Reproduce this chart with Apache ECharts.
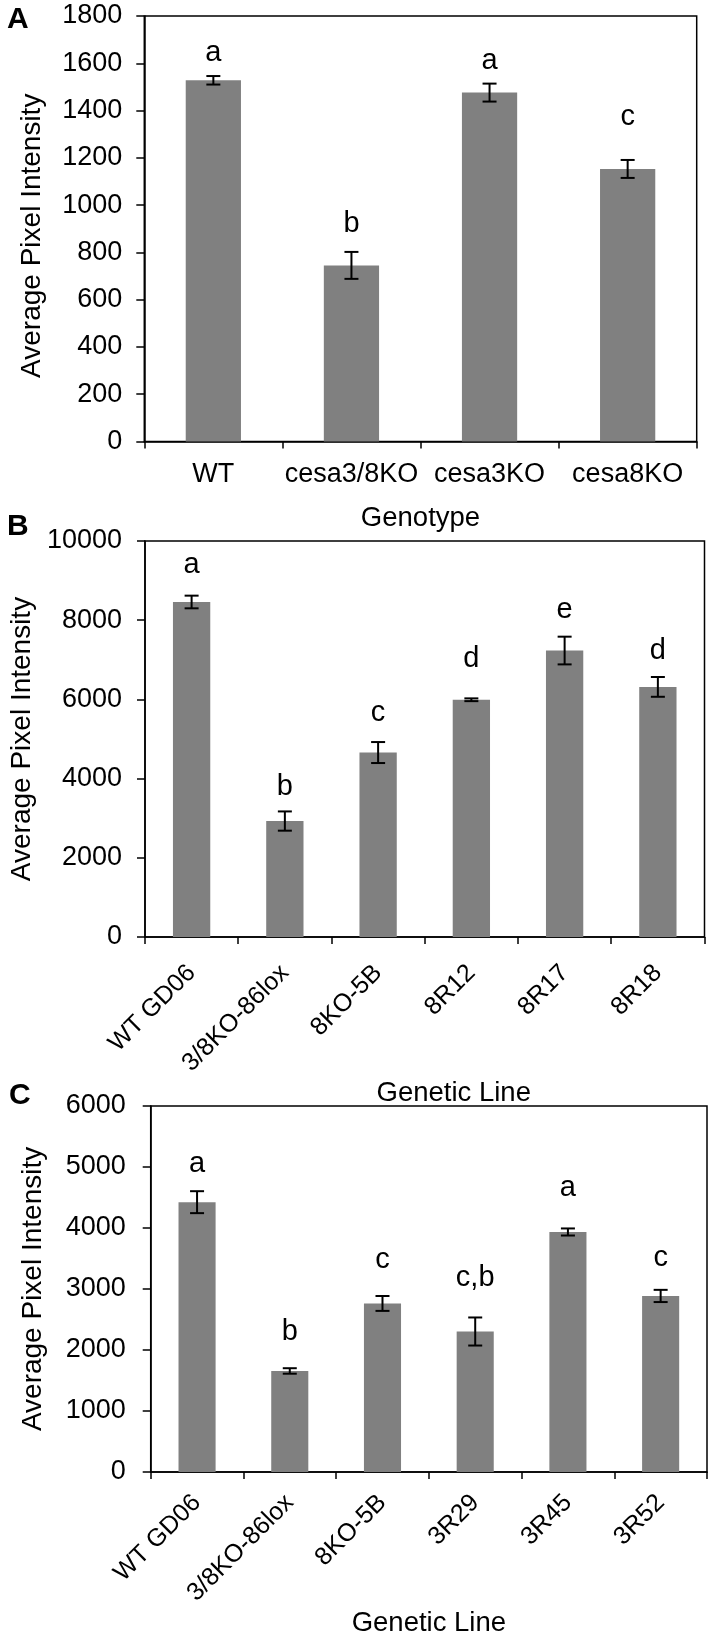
<!DOCTYPE html>
<html>
<head>
<meta charset="utf-8">
<script src="https://cdn.jsdelivr.net/npm/echarts@6/dist/echarts.min.js"></script>
<style>
html,body{margin:0;padding:0;background:#fff;}
#chart{width:713px;height:1638px;}
</style>
</head>
<body>
<div id="chart"></div>
<script>
// ---- Panel A ----
const catsA = ['WT', 'cesa3/8KO', 'cesa3KO', 'cesa8KO'];
const valsA = [1528, 745, 1476, 1153];
const errA = [18, 57, 38, 38];
const lettersA = ['a', 'b', 'a', 'c'];
const letterLevelA = [1642, 920, 1609, 1372];
const yMaxA = 1800, yStepA = 200;

// ---- Panel B ----
const catsB = ['WT GD06', '3/8KO-86lox', '8KO-5B', '8R12', '8R17', '8R18'];
const valsB = [8460, 2928, 4658, 5991, 7234, 6316];
const errB = [160, 243, 265, 35, 350, 250];
const lettersB = ['a', 'b', 'c', 'd', 'e', 'd'];
const letterLevelB = [9388, 3784, 5649, 7027, 8262, 7234];
const yMaxB = 10000, yStepB = 2000;

// ---- Panel C ----
const catsC = ['WT GD06', '3/8KO-86lox', '8KO-5B', '3R29', '3R45', '3R52'];
const valsC = [4423, 1655, 2762, 2302, 3934, 2885];
const errC = [180, 45, 122, 230, 58, 100];
const lettersC = ['a', 'b', 'c', 'c,b', 'a', 'c'];
const letterLevelC = [5041, 2302, 3467, 3176, 4662, 3514];
const yMaxC = 6000, yStepC = 1000;

const FONT = '"Liberation Sans", Arial, Helvetica, sans-serif';
const BAR = '#808080';

function errRender(params, api) {
  const v = api.value(1), e = api.value(2);
  const top = api.coord([api.value(0), v + e]);
  const bot = api.coord([api.value(0), v - e]);
  const hw = 7;
  const st = {stroke: '#000', lineWidth: 2};
  return {type: 'group', children: [
    {type: 'line', shape: {x1: top[0], y1: top[1], x2: bot[0], y2: bot[1]}, style: st},
    {type: 'line', shape: {x1: top[0] - hw, y1: top[1], x2: top[0] + hw, y2: top[1]}, style: st},
    {type: 'line', shape: {x1: bot[0] - hw, y1: bot[1], x2: bot[0] + hw, y2: bot[1]}, style: st}
  ]};
}
function letterRender(letters) {
  return function (params, api) {
    const p = api.coord([api.value(0), api.value(1)]);
    return {type: 'text', style: {x: p[0], y: p[1], text: letters[params.dataIndex],
      fill: '#000', font: '29px ' + FONT, textAlign: 'center', textVerticalAlign: 'middle'}};
  };
}

const axisLine = {show: true, lineStyle: {color: '#000', width: 1.5}};
function xAxis(idx, cats, opts) {
  return Object.assign({
    type: 'category', gridIndex: idx, data: cats, boundaryGap: true,
    axisLine: axisLine,
    axisTick: {show: true, length: 7, lineStyle: {color: '#000', width: 1.5}},
    splitLine: {show: false},
    nameLocation: 'middle',
    nameTextStyle: {color: '#000', fontSize: 27.5, fontFamily: FONT}
  }, opts);
}
function yAxis(idx, max, step, opts) {
  return Object.assign({
    type: 'value', gridIndex: idx, min: 0, max: max, interval: step,
    axisLine: axisLine,
    axisTick: {show: true, length: 8, lineStyle: {color: '#000', width: 1.5}},
    splitLine: {show: false},
    name: 'Average Pixel Intensity', nameLocation: 'middle'
  }, opts);
}
const plain = v => String(v);

const panels = [
  {cats: catsA, vals: valsA, err: errA, letters: lettersA, lv: letterLevelA},
  {cats: catsB, vals: valsB, err: errB, letters: lettersB, lv: letterLevelB},
  {cats: catsC, vals: valsC, err: errC, letters: lettersC, lv: letterLevelC}
];

const series = [];
panels.forEach((p, k) => {
  series.push({type: 'bar', xAxisIndex: k, yAxisIndex: k, data: p.vals, barWidth: '40%',
    itemStyle: {color: BAR}, silent: true, animation: false});
  series.push({type: 'custom', xAxisIndex: k, yAxisIndex: k, renderItem: errRender,
    data: p.vals.map((v, i) => [i, v, p.err[i]]), encode: {x: 0, y: 1}, z: 5, animation: false});
  series.push({type: 'custom', xAxisIndex: k, yAxisIndex: k, renderItem: letterRender(p.letters),
    data: p.lv.map((v, i) => [i, v]), encode: {x: 0, y: 1}, z: 6, animation: false});
});

const gridStyle = {show: true, borderColor: '#000', borderWidth: 1.5, backgroundColor: 'transparent'};
const yLabel = (m) => ({color: '#000', fontSize: 27, fontFamily: FONT, margin: m, formatter: plain});
const yName = (pad) => ({color: '#000', fontSize: 28, fontFamily: FONT, padding: pad});

const option = {
  animation: false,
  backgroundColor: '#fff',
  textStyle: {fontFamily: FONT, color: '#000'},
  grid: [
    Object.assign({left: 144.3, top: 16, width: 552.4, height: 425.5}, gridStyle),
    Object.assign({left: 141, top: 541, width: 563.5, height: 396}, gridStyle),
    Object.assign({left: 150.7, top: 1106, width: 556.3, height: 375.5}, gridStyle)
  ],
  xAxis: [
    xAxis(0, catsA, {name: 'Genotype', nameGap: 62.5,
      axisLabel: {color: '#000', fontSize: 27, fontFamily: FONT, margin: 20, interval: 0}}),
    xAxis(1, catsB, {name: 'Genetic Line', nameGap: 137,
      nameTextStyle: {color: '#000', fontSize: 27.5, fontFamily: FONT, padding: [0, 0, 0, 58]},
      axisLabel: {color: '#000', fontSize: 25, fontFamily: FONT, margin: 32, rotate: 45, interval: 0}}),
    xAxis(2, catsC, {name: 'Genetic Line', nameGap: 134,
      axisLabel: {color: '#000', fontSize: 25, fontFamily: FONT, margin: 27, rotate: 45, interval: 0}})
  ],
  yAxis: [
    yAxis(0, yMaxA, yStepA, {nameGap: 98.3, nameTextStyle: yName([0, 14, 0, 0]), axisLabel: yLabel(22)}),
    yAxis(1, yMaxB, yStepB, {nameGap: 104.3, nameTextStyle: yName([0, 0, 0, 0]), axisLabel: yLabel(23)}),
    yAxis(2, yMaxC, yStepC, {nameGap: 103.7, nameTextStyle: yName([0, 0, 0, 0]), axisLabel: yLabel(25)})
  ],
  graphic: [
    {type: 'text', left: 7, top: 5, style: {text: 'A', font: 'bold 30px ' + FONT, fill: '#000'}},
    {type: 'text', left: 7, top: 512, style: {text: 'B', font: 'bold 30px ' + FONT, fill: '#000'}},
    {type: 'text', left: 9, top: 1081, style: {text: 'C', font: 'bold 30px ' + FONT, fill: '#000'}}
  ],
  series: series
};

const chart = echarts.init(document.getElementById('chart'), null, {renderer: 'canvas', width: 713, height: 1638});
chart.setOption(option);
</script>
</body>
</html>
